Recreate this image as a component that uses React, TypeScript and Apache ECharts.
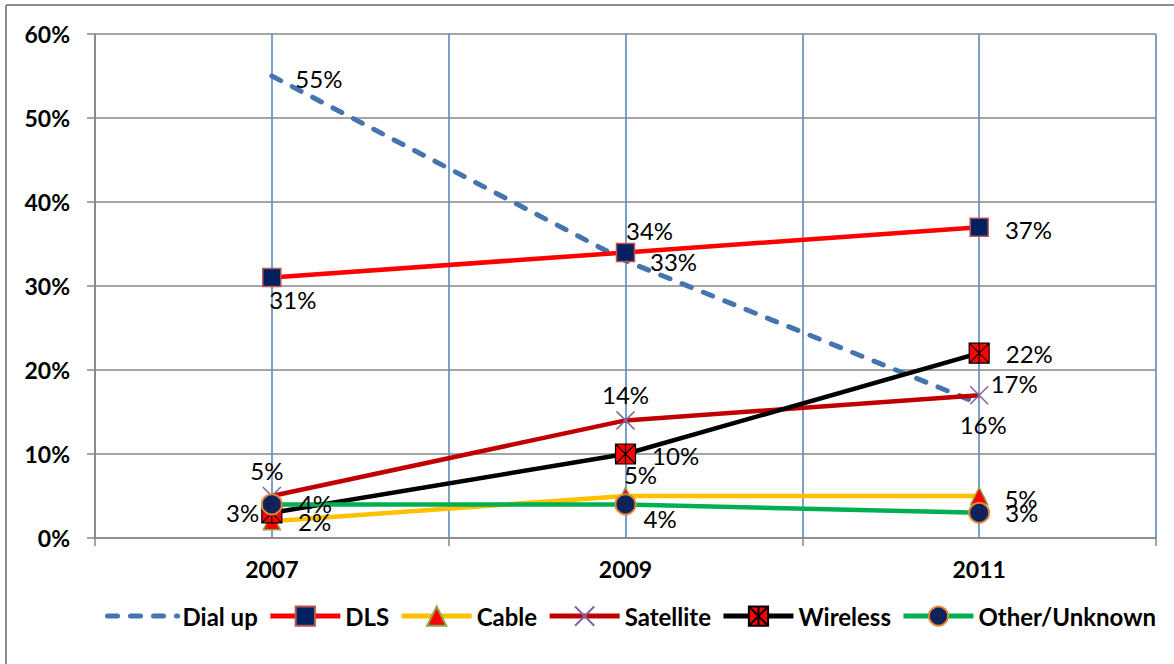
import React, { useEffect, useRef } from "react";
import * as echarts from "echarts";

// Survey years and share of connection types (percent)
const years = [2007, 2009, 2011];
const labelledYears = [2007, 2009, 2011];
const dialUp = [55, 33, 16];
const dls = [31, 34, 37];
const cable = [2, 5, 5];
const satellite = [5, 14, 17];
const wireless = [3, 10, 22];
const otherUnknown = [4, 4, 3];
const seriesNames = ["Dial up", "DLS", "Cable", "Satellite", "Wireless", "Other/Unknown"];

type Place = { position: string; distance: number; offset: [number, number] };
const p = (position: string, distance: number, ox = 0, oy = 0): Place => ({
  position,
  distance,
  offset: [ox, oy],
});

// Where each value label sits relative to its marker
const dialUpLabels = [p("right", 23, 0, 2), p("right", 24, 0, 1), p("bottom", 8, 4, 0)];
const dlsLabels = [p("bottom", 0, 21, 0), p("top", 0, 24, 0), p("right", 16, 0, 2)];
const cableLabels = [p("right", 17, 0, 0), p("top", 0, 15, 0), p("right", 16, 0, 2)];
const satelliteLabels = [p("top", 2, -5, 0), p("top", 2, 0, 0), p("right", 0, 0, -12)];
const wirelessLabels = [p("left", 2, 0, 0), p("right", 16, 0, 1), p("right", 16, 0, 0)];
const otherLabels = [p("right", 16, 0, -1), p("right", 7, 0, 14), p("right", 15, 0, 0)];

const FONT = "Lato, 'Open Sans', sans-serif";
const GRID_GRAY = "#878787";

const points = (vals: number[], places: Place[]) =>
  years.map((y, i) => ({
    value: [y, vals[i]],
    label: {
      position: places[i].position,
      distance: places[i].distance,
      offset: places[i].offset,
    },
  }));

const valueLabel = {
  show: true,
  formatter: (prm: any) => `${prm.value[1]}%`,
  fontSize: 24,
  fontFamily: FONT,
  color: "#000",
};

export default function App() {
  const ref = useRef<HTMLDivElement>(null);

  useEffect(() => {
    if (!ref.current) return;
    const chart = echarts.init(ref.current, null, { renderer: "svg" });

    const option: any = {
      animation: false,
      textStyle: { fontFamily: FONT },
      grid: { left: 95, right: 18, top: 34, bottom: 126, containLabel: false },
      xAxis: [
        {
          type: "value",
          min: 2006,
          max: 2012,
          interval: 1,
          position: "bottom",
          axisLine: { show: true, onZero: false, lineStyle: { color: GRID_GRAY, width: 1.5 } },
          axisTick: { show: false },
          axisLabel: {
            margin: 19,
            fontSize: 23,
            fontWeight: "bold",
            fontFamily: FONT,
            color: "#000",
            formatter: (v: number) => (labelledYears.includes(v) ? String(v) : ""),
          },
          splitLine: { show: true, lineStyle: { color: "#4F81BD", width: 1.5 } },
        },
        {
          type: "value",
          min: 2006,
          max: 2012,
          interval: 2,
          position: "bottom",
          axisLine: { show: false, onZero: false },
          axisTick: { show: true, length: 8, lineStyle: { color: GRID_GRAY, width: 1.5 } },
          axisLabel: { show: false },
          splitLine: { show: false },
        },
      ],
      yAxis: {
        type: "value",
        min: 0,
        max: 60,
        interval: 10,
        z: 3,
        axisLine: { show: true, lineStyle: { color: GRID_GRAY, width: 1.5 } },
        axisTick: { show: true, length: 8, lineStyle: { color: GRID_GRAY, width: 1.5 } },
        axisLabel: {
          formatter: "{value}%",
          margin: 25,
          fontSize: 23,
          fontWeight: "bold",
          fontFamily: FONT,
          color: "#000",
        },
        splitLine: { show: true, lineStyle: { color: GRID_GRAY, width: 1.5 } },
      },
      legend: {
        left: 100,
        top: 599,
        itemWidth: 70,
        itemHeight: 24,
        itemGap: 10,
        data: seriesNames,
        lineStyle: { width: 5 },
        textStyle: { fontSize: 24, fontWeight: "bold", fontFamily: FONT, color: "#000" },
      },
      graphic: [
        {
          type: "line",
          shape: { x1: 6, y1: 5, x2: 6, y2: 664 },
          style: { stroke: "#8c8c8c", lineWidth: 2 },
        },
        {
          type: "line",
          shape: { x1: 6, y1: 5, x2: 1174, y2: 5 },
          style: { stroke: "#8c8c8c", lineWidth: 2 },
        },
      ],
      series: [
        {
          name: seriesNames[0],
          type: "line",
          xAxisIndex: 0,
          data: points(dialUp, dialUpLabels),
          symbol: "circle",
          symbolSize: 1,
          itemStyle: { color: "rgba(0,0,0,0)" },
          lineStyle: { color: "#4674AE", width: 5, type: [10, 13], cap: "round" },
          label: valueLabel,
        },
        {
          name: seriesNames[1],
          type: "line",
          xAxisIndex: 0,
          data: points(dls, dlsLabels),
          symbol: "rect",
          symbolSize: 18,
          itemStyle: { color: "#002060", borderColor: "#B85450", borderWidth: 1.5 },
          lineStyle: { color: "#FF0000", width: 4.5 },
          label: valueLabel,
        },
        {
          name: seriesNames[2],
          type: "line",
          xAxisIndex: 0,
          data: points(cable, cableLabels),
          symbol: "triangle",
          symbolSize: 17,
          itemStyle: { color: "#FF0000", borderColor: "#8AA74E", borderWidth: 1.5 },
          lineStyle: { color: "#FFC000", width: 4.5 },
          label: valueLabel,
        },
        {
          name: seriesNames[3],
          type: "line",
          xAxisIndex: 0,
          data: points(satellite, satelliteLabels),
          symbol: "path://M0,0L10,10M10,0L0,10",
          symbolSize: 18,
          itemStyle: { color: "none", borderColor: "#7F64A0", borderWidth: 1.5 },
          lineStyle: { color: "#C00000", width: 4.5 },
          label: valueLabel,
        },
        {
          name: seriesNames[4],
          type: "line",
          xAxisIndex: 0,
          data: points(wireless, wirelessLabels),
          symbol: "path://M0,0H10V10H0Z M0,0L10,10M10,0L0,10M5,0V10",
          symbolSize: 20,
          itemStyle: { color: "#FF0000", borderColor: "#000", borderWidth: 1.2 },
          lineStyle: { color: "#000000", width: 4.5 },
          label: valueLabel,
        },
        {
          name: seriesNames[5],
          type: "line",
          xAxisIndex: 0,
          data: points(otherUnknown, otherLabels),
          symbol: "circle",
          symbolSize: 20,
          itemStyle: { color: "#0F2259", borderColor: "#E0893A", borderWidth: 2 },
          lineStyle: { color: "#00B050", width: 4.5 },
          label: valueLabel,
        },
      ],
    };

    chart.setOption(option);
    return () => chart.dispose();
  }, []);

  return (
    <div
      ref={ref}
      style={{ position: "fixed", left: 0, top: 0, width: 1174, height: 664, background: "#fff" }}
    />
  );
}
